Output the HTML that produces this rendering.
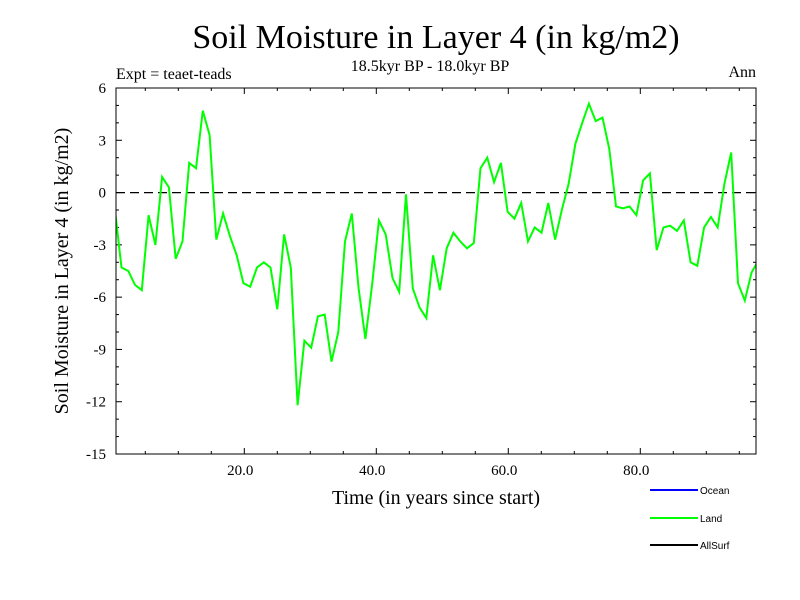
<!DOCTYPE html>
<html><head><meta charset="utf-8"><style>
body{margin:0;background:#fff;}
svg{display:block;font-family:"Liberation Serif",serif;}
</style></head><body>
<svg id="chart" width="800" height="600" viewBox="0 0 800 600">
<text x="436" y="48" font-size="34" text-anchor="middle">Soil Moisture in Layer 4 (in kg/m2)</text>
<text x="430" y="71" font-size="16" text-anchor="middle">18.5kyr BP - 18.0kyr BP</text>
<text x="116" y="79" font-size="16">Expt = teaet-teads</text>
<text x="756" y="77" font-size="16" text-anchor="end">Ann</text>
<text x="436" y="504" font-size="20" text-anchor="middle">Time (in years since start)</text>
<text transform="translate(68,271) rotate(-90)" font-size="20" text-anchor="middle">Soil Moisture in Layer 4 (in kg/m2)</text>
<g id="ticks"></g>
<line x1="116" y1="192.6" x2="756" y2="192.6" stroke="#000" stroke-width="1.2" stroke-dasharray="9,5"/>
<clipPath id="clip"><rect x="116" y="88" width="640" height="366"/></clipPath>
<polyline id="series-land" fill="none" stroke="#00ff00" stroke-width="2" clip-path="url(#clip)"/>
<rect x="116" y="88" width="640" height="366" fill="none" stroke="#000" stroke-width="1"/>
<g font-family="Liberation Sans, sans-serif" font-size="10">
<line x1="650" y1="490" x2="698" y2="490" stroke="#0000ff" stroke-width="2"/>
<text x="700" y="494">Ocean</text>
<line x1="650" y1="518" x2="698" y2="518" stroke="#00ff00" stroke-width="2"/>
<text x="700" y="522">Land</text>
<line x1="650" y1="545" x2="698" y2="545" stroke="#000" stroke-width="2"/>
<text x="700" y="549">AllSurf</text>
</g>
</svg>
<script>
const landValues = [-0.87,-4.3,-4.5,-5.3,-5.6,-1.3,-3.0,0.9,0.3,-3.8,-2.8,1.7,1.4,4.7,3.3,-2.7,-1.2,-2.5,-3.6,-5.2,-5.4,-4.3,-4.0,-4.3,-6.7,-2.4,-4.3,-12.2,-8.5,-8.9,-7.1,-7.0,-9.7,-8.0,-2.8,-1.2,-5.5,-8.4,-5.3,-1.6,-2.4,-4.9,-5.7,-0.1,-5.5,-6.6,-7.2,-3.6,-5.6,-3.2,-2.3,-2.8,-3.2,-2.9,1.4,2.0,0.6,1.7,-1.1,-1.5,-0.6,-2.8,-2.0,-2.3,-0.6,-2.7,-1.0,0.5,2.8,4.0,5.1,4.1,4.3,2.5,-0.8,-0.9,-0.8,-1.3,0.7,1.1,-3.3,-2.0,-1.9,-2.2,-1.6,-4.0,-4.2,-2.0,-1.4,-2.0,0.5,2.3,-5.2,-6.2,-4.6,-3.9];
const xTickValues = [20,40,60,80];
const xTickLabels = ["20.0","40.0","60.0","80.0"];
const yTickValues = [6,3,0,-3,-6,-9,-12,-15];
const yTickLabels = ["6","3","0","-3","-6","-9","-12","-15"];
const yMin=-15, yMax=6, yTop=88, yBot=454;
function yScale(v){return yBot-(v-yMin)/(yMax-yMin)*(yBot-yTop);}
function xScale(t){return 112.3+6.6*t;}
function dataYear(i){return 0.364+1.0265*i;}
const NS="http://www.w3.org/2000/svg";
const svg=document.getElementById('chart');
const tg=document.getElementById('ticks');
function mk(tag,attrs,parent){const e=document.createElementNS(NS,tag);for(const k in attrs)e.setAttribute(k,attrs[k]);parent.appendChild(e);return e;}
for(let v=yMin; v<=yMax; v+=1){
  const y=yScale(v); const major=(v%3===0); const L=major?6:3;
  const a=mk('line',{x1:116,y1:y,x2:116+L,y2:y,stroke:'#000'},tg);
  
  
  const b=mk('line',{x1:756,y1:y,x2:756-L,y2:y,stroke:'#000'},tg);
  
  
}
yTickValues.forEach((v,i)=>{
  const t=mk('text',{x:106,y:yScale(v)+5,'font-size':15,'text-anchor':'end'},svg);
  t.textContent=yTickLabels[i];
  
  
});
for(let t=5;t<=95;t+=5){
  const x=xScale(t); const major=t%20===0; const L=major?6:3;
  const a=mk('line',{x1:x,y1:454,x2:x,y2:454-L,stroke:'#000'},tg);
  
  
  const b=mk('line',{x1:x,y1:88,x2:x,y2:88+L,stroke:'#000'},tg);
  
  
}
xTickValues.forEach((v,i)=>{
  const t=mk('text',{x:xScale(v)-4,y:475,'font-size':15,'text-anchor':'middle'},svg);
  t.textContent=xTickLabels[i];
  
  
});
document.getElementById('series-land').setAttribute('points',
  landValues.map((v,i)=>xScale(dataYear(i)).toFixed(1)+','+yScale(v).toFixed(1)).join(' '));
</script>
</body></html>
